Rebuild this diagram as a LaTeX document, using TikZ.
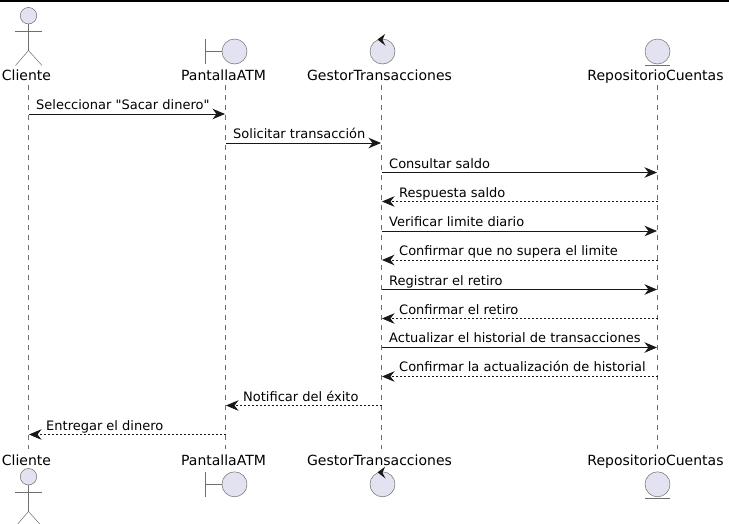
\documentclass[tikz,border=0pt]{standalone}
\usepackage{fontspec}
\setmainfont[Ligatures=TeXOff]{DejaVu Sans}
\usetikzlibrary{arrows.meta,positioning,calc}
\definecolor{InkGrey}{RGB}{24,24,24}
\definecolor{ThinGrey}{RGB}{110,110,110}
\definecolor{SoftLilac}{RGB}{226,226,240}
\tikzset{
  party/.style={font=\fontsize{14}{16}\selectfont,inner sep=0pt,anchor=base},
  round/.style={circle,draw=ThinGrey,line width=0.5pt,fill=SoftLilac,inner sep=0pt,minimum size=25pt},
  head/.style={circle,draw=ThinGrey,line width=0.5pt,fill=SoftLilac,inner sep=0pt,minimum size=16.5pt},
  limb/.style={draw=ThinGrey,line width=0.5pt},
  lifeline/.style={draw=ThinGrey,line width=0.5pt,dash pattern=on 5pt off 5pt},
  call/.style={-{Stealth[length=12.5pt,width=10.5pt,inset=4pt]},line width=0.9pt,InkGrey,shorten >=0.5pt},
  reply/.style={-{Stealth[length=12.5pt,width=10.5pt,inset=4pt]},line width=0.9pt,InkGrey,shorten >=0.5pt,dash pattern=on 2pt off 2pt},
  say/.style={font=\fontsize{13}{15}\selectfont,inner sep=0pt,anchor=base west,text=black}
}
\begin{document}
\begin{tikzpicture}[x=1pt,y=1pt]
      \useasboundingbox (0,0) rectangle (729,-523);
      \fill[black] (0,0) rectangle (729,-2);
      % lifelines
      \coordinate (cliTop) at (28.5,-85);
      \coordinate (panTop) at (225.5,-85);
      \coordinate (gesTop) at (381.5,-85);
      \coordinate (repTop) at (657.5,-85);
      \coordinate (cliEnd) at (28.5,-449);
      \coordinate (panEnd) at (225.5,-449);
      \coordinate (gesEnd) at (381.5,-449);
      \coordinate (repEnd) at (657.5,-449);
      \draw[lifeline] (cliTop) -- (cliEnd);
      \draw[lifeline] (panTop) -- (panEnd);
      \draw[lifeline] (gesTop) -- (gesEnd);
      \draw[lifeline] (repTop) -- (repEnd);
      % top row
      \node[party] (cliA) at (26.5,-80) {Cliente};
      \node[party] (panA) at (223.5,-80) {PantallaATM};
      \node[party] (gesA) at (379.5,-80) {GestorTransacciones};
      \node[party] (repA) at (655.5,-80) {RepositorioCuentas};
      \node[head] (cliHead) at (28.5,-15.7) {};
      \coordinate (cliHip) at (28.5,-50.5);
      \draw[limb] (cliHead) -- (cliHip);
      \draw[limb] (15.3,-31.3) -- (42,-31.3);
      \draw[limb] (cliHip) -- (15.5,-65.5);
      \draw[limb] (cliHip) -- (42,-65.5);
      \node[round] (panDisc) at (234.5,-51.5) {};
      \coordinate (panBar) at (205.3,-51.5);
      \draw[limb] (panBar) -- (panDisc);
      \draw[limb] ($(panBar)+(0,12.5)$) -- ($(panBar)+(0,-12.5)$);
      \node[round] (gesDisc) at (382.5,-51.5) {};
      \fill[InkGrey] (377.5,-39.5) -- (385,-34) -- (382.5,-40) -- (385.5,-45.7) -- cycle;
      \node[round] (repDisc) at (657.5,-51.5) {};
      \draw[limb] ($(repDisc.south)+(-12.5,-1)$) -- ($(repDisc.south)+(12.5,-1)$);
      % bottom row
      \node[party] (cliB) at (26.5,-465) {Cliente};
      \node[party] (panB) at (223.5,-465) {PantallaATM};
      \node[party] (gesB) at (379.5,-465) {GestorTransacciones};
      \node[party] (repB) at (655.5,-465) {RepositorioCuentas};
      \node[head] (cliHeadB) at (28.5,-476.7) {};
      \coordinate (cliHipB) at (28.5,-511.5);
      \draw[limb] (cliHeadB) -- (cliHipB);
      \draw[limb] (15.3,-492.3) -- (42,-492.3);
      \draw[limb] (cliHipB) -- (15.5,-526.5);
      \draw[limb] (cliHipB) -- (42,-526.5);
      \node[round] (panDiscB) at (234.5,-484.3) {};
      \coordinate (panBarB) at (205.3,-484.3);
      \draw[limb] (panBarB) -- (panDiscB);
      \draw[limb] ($(panBarB)+(0,12.5)$) -- ($(panBarB)+(0,-12.5)$);
      \node[round] (gesDiscB) at (382.5,-484.3) {};
      \fill[InkGrey] (377.5,-472.3) -- (385,-466.8) -- (382.5,-472.8) -- (385.5,-478.5) -- cycle;
      \node[round] (repDiscB) at (657.5,-484.3) {};
      \draw[limb] ($(repDiscB.south)+(-12.5,-1)$) -- ($(repDiscB.south)+(12.5,-1)$);
      % messages
      \draw[call] (cliTop |- 0,-114) -- (panTop |- 0,-114);
      \node[say] (m1) at (36,-109) {Seleccionar "Sacar dinero"};
      \draw[call] (panTop |- 0,-143) -- (gesTop |- 0,-143);
      \node[say] (m2) at (233,-138) {Solicitar transacción};
      \draw[call] (gesTop |- 0,-172.5) -- (repTop |- 0,-172.5);
      \node[say] (m3) at (389,-168) {Consultar saldo};
      \draw[reply] (repTop |- 0,-201.5) -- (gesTop |- 0,-201.5);
      \node[say] (m4) at (399,-197) {Respuesta saldo};
      \draw[call] (gesTop |- 0,-231) -- (repTop |- 0,-231);
      \node[say] (m5) at (389,-226) {Verificar limite diario};
      \draw[reply] (repTop |- 0,-260) -- (gesTop |- 0,-260);
      \node[say] (m6) at (399,-255) {Confirmar que no supera el limite};
      \draw[call] (gesTop |- 0,-289.5) -- (repTop |- 0,-289.5);
      \node[say] (m7) at (389,-285) {Registrar el retiro};
      \draw[reply] (repTop |- 0,-318.5) -- (gesTop |- 0,-318.5);
      \node[say] (m8) at (399,-314) {Confirmar el retiro};
      \draw[call] (gesTop |- 0,-347.5) -- (repTop |- 0,-347.5);
      \node[say] (m9) at (389,-342.5) {Actualizar el historial de transacciones};
      \draw[reply] (repTop |- 0,-376.5) -- (gesTop |- 0,-376.5);
      \node[say] (m10) at (399,-371.5) {Confirmar la actualización de historial};
      \draw[reply] (gesTop |- 0,-405.5) -- (panTop |- 0,-405.5);
      \node[say] (m11) at (243,-401) {Notificar del éxito};
      \draw[reply] (panTop |- 0,-434.5) -- (cliTop |- 0,-434.5);
      \node[say] (m12) at (46,-430) {Entregar el dinero};
    \end{tikzpicture}
\end{document}
